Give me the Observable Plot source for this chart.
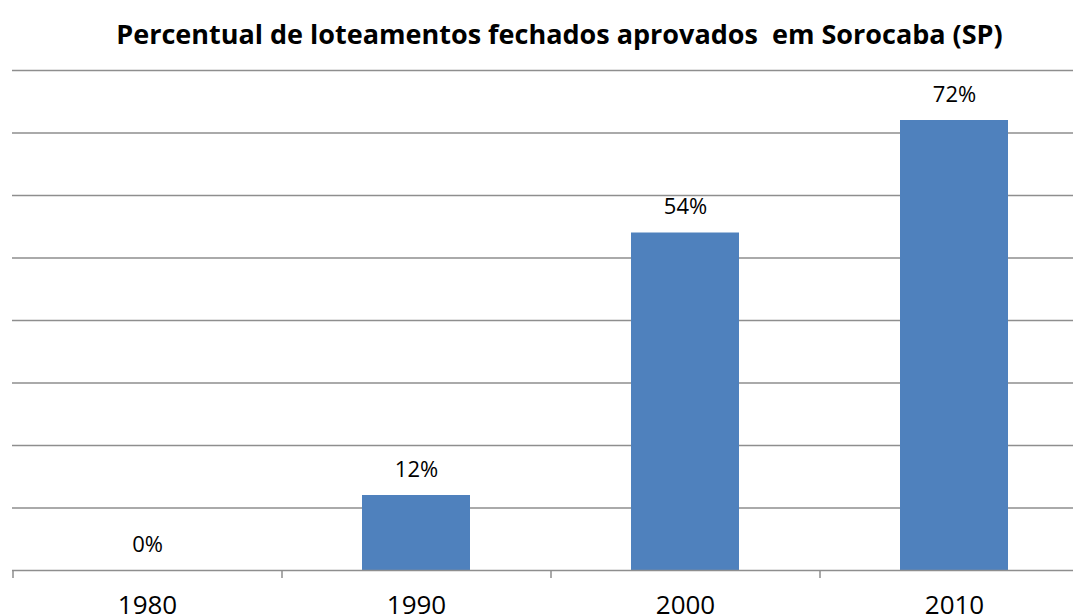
<!DOCTYPE html>
<html><head><meta charset="utf-8">
<script src="https://cdn.jsdelivr.net/npm/d3@7"></script>
<script src="https://cdn.jsdelivr.net/npm/@observablehq/plot@0.6"></script>
<style>
html,body{margin:0;padding:0;background:#fff;overflow:hidden;width:1073px;height:614px;position:relative}
#title{position:absolute;left:46px;top:0;width:1027px;height:60px;font-family:"Open Sans",sans-serif;font-weight:700;font-size:27px;line-height:68px;text-align:center;color:#000;white-space:pre}
#chart{position:absolute;left:0;top:60px;width:1088px}
#chart svg{max-width:none}
</style></head><body>
<div id="title">Percentual de loteamentos fechados aprovados  em Sorocaba (SP)</div>
<div id="chart"></div>
<script>
const years = ["1980", "1990", "2000", "2010"];
const percents = [0, 12, 54, 72];
const gridTicks = [10, 20, 30, 40, 50, 60, 70, 80];
const data = years.map((y, i) => ({year: y, pct: percents[i]}));
const lineColor = "#8e8e8e";
const plot = Plot.plot({
  width: 1088, height: 554,
  marginLeft: 12, marginRight: 0, marginTop: 10, marginBottom: 44,
  style: {fontFamily: "Open Sans, sans-serif", background: "#fff", color: "#000", maxWidth: "none"},
  x: {domain: years, paddingInner: 0.6, paddingOuter: 0.3, axis: null, label: null},
  y: {domain: [0, 80], axis: null},
  marks: [
    Plot.gridY(gridTicks, {stroke: lineColor, strokeOpacity: 1, strokeWidth: 1.5}),
    Plot.barY(data, {x: "year", y: "pct", fill: "#4f81bd"}),
    Plot.ruleY([0], {stroke: lineColor, strokeWidth: 1.5}),
    Plot.axisX({tickSize: 8, dx: -134.5, tickFormat: () => "", label: null, stroke: lineColor, strokeWidth: 1.5, strokeOpacity: 1}),
    Plot.axisX({tickSize: 0, tickPadding: 25, fontSize: 26, label: null, fill: "#000"}),
    Plot.text(data, {x: "year", y: "pct", text: d => d.pct + "%", dy: -26, fontSize: 22, fill: "#000"})
  ]
});
document.getElementById("chart").append(plot);
</script>
</body></html>
